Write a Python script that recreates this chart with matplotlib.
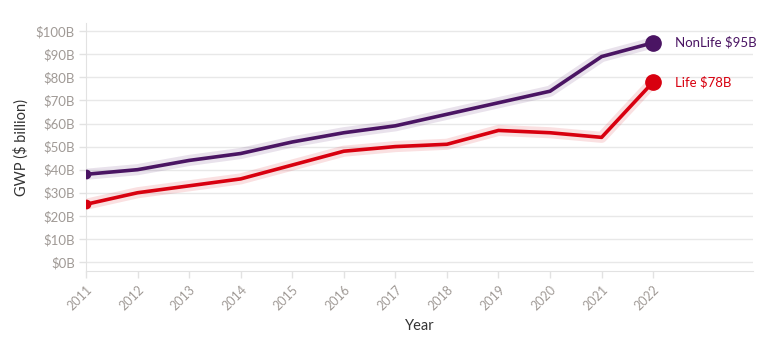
import matplotlib.pyplot as plt

years = [2011, 2012, 2013, 2014, 2015, 2016, 2017, 2018, 2019, 2020, 2021, 2022]
nonlife = [38, 40, 44, 47, 52, 56, 59, 64, 69, 74, 89, 95]
life = [25, 30, 33, 36, 42, 48, 50, 51, 57, 56, 54, 78]
y_ticks = [0, 10, 20, 30, 40, 50, 60, 70, 80, 90, 100]

series = [
    ("NonLife", nonlife, "#4a1463"),
    ("Life", life, "#d8000f"),
]

plt.rcParams["font.family"] = ["Lato", "DejaVu Sans"]

fig = plt.figure(figsize=(7.72, 3.40), dpi=100)
ax = fig.add_axes([0.1114, 0.203, 0.8636, 0.729])

for name, vals, color in series:
    # soft halo under the line
    ax.plot(years, vals, color=color, lw=8, alpha=0.12, solid_capstyle="round", zorder=2)
    ax.plot(years, vals, color=color, lw=2.6, solid_joinstyle="round", zorder=3)
    ax.plot(years[0], vals[0], "o", color=color, ms=6, zorder=4)
    ax.plot(years[-1], vals[-1], "o", color=color, ms=11, zorder=4)
    ax.annotate(f"{name} \\${vals[-1]}B", (years[-1], vals[-1]), xytext=(16, 0),
                textcoords="offset points", va="center", ha="left",
                color=color, fontsize=9.5)

ax.set_xlim(2011, 2023.93)
ax.set_ylim(-3.9, 103.5)
ax.set_xticks(years)
ax.set_xticklabels([str(y) for y in years], rotation=45, ha="right",
                   rotation_mode="anchor", color="#a09a96", fontsize=9)
ax.set_yticks(y_ticks)
ax.set_yticklabels([f"\\${v}B" for v in y_ticks], color="#a09a96", fontsize=9.5)

ax.grid(axis="y", color="#e8e8e8", lw=1)
ax.set_axisbelow(True)
for side in ["top", "right"]:
    ax.spines[side].set_visible(False)
for side in ["left", "bottom"]:
    ax.spines[side].set_color("#e2e2e2")
ax.tick_params(axis="both", color="#e2e2e2", length=5, width=1)
ax.tick_params(axis="y", pad=3)
ax.tick_params(axis="x", pad=4)

ax.set_xlabel("Year", fontsize=10.5, color="#333333")
ax.xaxis.set_label_coords(0.5, -0.195)
ax.set_ylabel("GWP (\\$ billion)", fontsize=10.5, color="#333333", labelpad=5)

fig.savefig("out.png", dpi=100)
